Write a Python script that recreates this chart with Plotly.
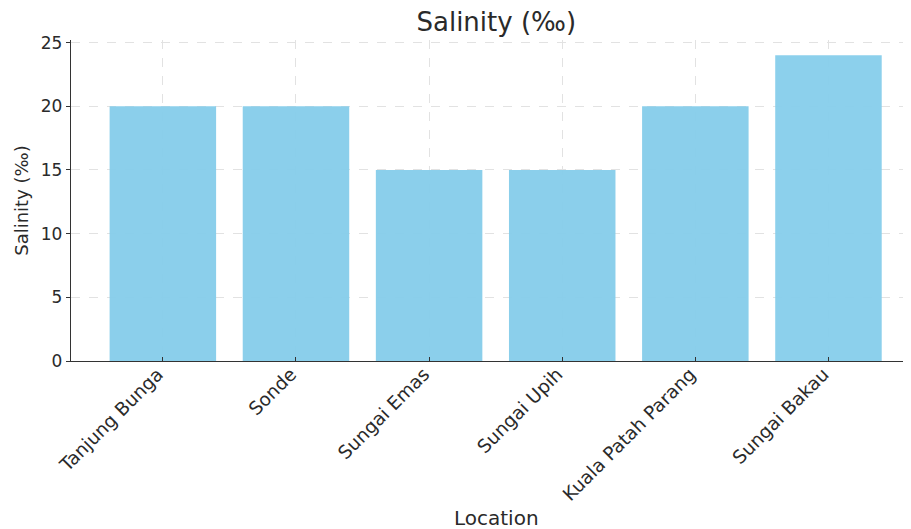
import plotly.graph_objects as go

locations = ["Tanjung Bunga", "Sonde", "Sungai Emas", "Sungai Upih", "Kuala Patah Parang", "Sungai Bakau"]
salinity = [20, 20, 15, 15, 20, 24]
y_ticks = [0, 5, 10, 15, 20, 25]

fig = go.Figure(go.Bar(
    x=locations, y=salinity, marker=dict(color="#87CEEB", line=dict(width=0)),
    width=0.8, opacity=0.96,
))

font = "DejaVu Sans, sans-serif"
fig.update_layout(
    width=911, height=529,
    margin=dict(l=63, r=8, t=32, b=176),
    paper_bgcolor="white", plot_bgcolor="white",
    font=dict(family=font, size=17, color="#2a2a2a"),
    title=dict(text="Salinity (‰)", x=0.536, xanchor="center", y=0.973, yanchor="middle",
               font=dict(size=26, color="#2a2a2a")),
    showlegend=False,
    annotations=[dict(text="Location", xref="paper", yref="paper", x=0.506, y=-0.489,
                      xanchor="center", yanchor="middle", showarrow=False,
                      font=dict(size=20, color="#2a2a2a"))],
)
fig.update_xaxes(
    range=[-0.69, 5.62], tickangle=-45, ticks="inside", ticklen=4, tickcolor="#333",
    showline=True, linecolor="#333", linewidth=1.3, automargin=False,
    showgrid=True, gridcolor="#e2e2e2", griddash="dash", gridwidth=1,
    tickfont=dict(size=18.5), ticklabelshift=-5, ticklabelstandoff=-6,
)
fig.update_yaxes(
    range=[0, 25.2], tickvals=y_ticks, ticks="outside", ticklen=4, tickcolor="#333",
    showline=True, linecolor="#333", linewidth=1.3, automargin=False,
    showgrid=True, gridcolor="#e2e2e2", griddash="dash", gridwidth=1,
    zeroline=False,
    title=dict(text="Salinity (‰)", font=dict(size=18), standoff=7),
    tickfont=dict(size=17),
)
fig.write_html("out.html")
